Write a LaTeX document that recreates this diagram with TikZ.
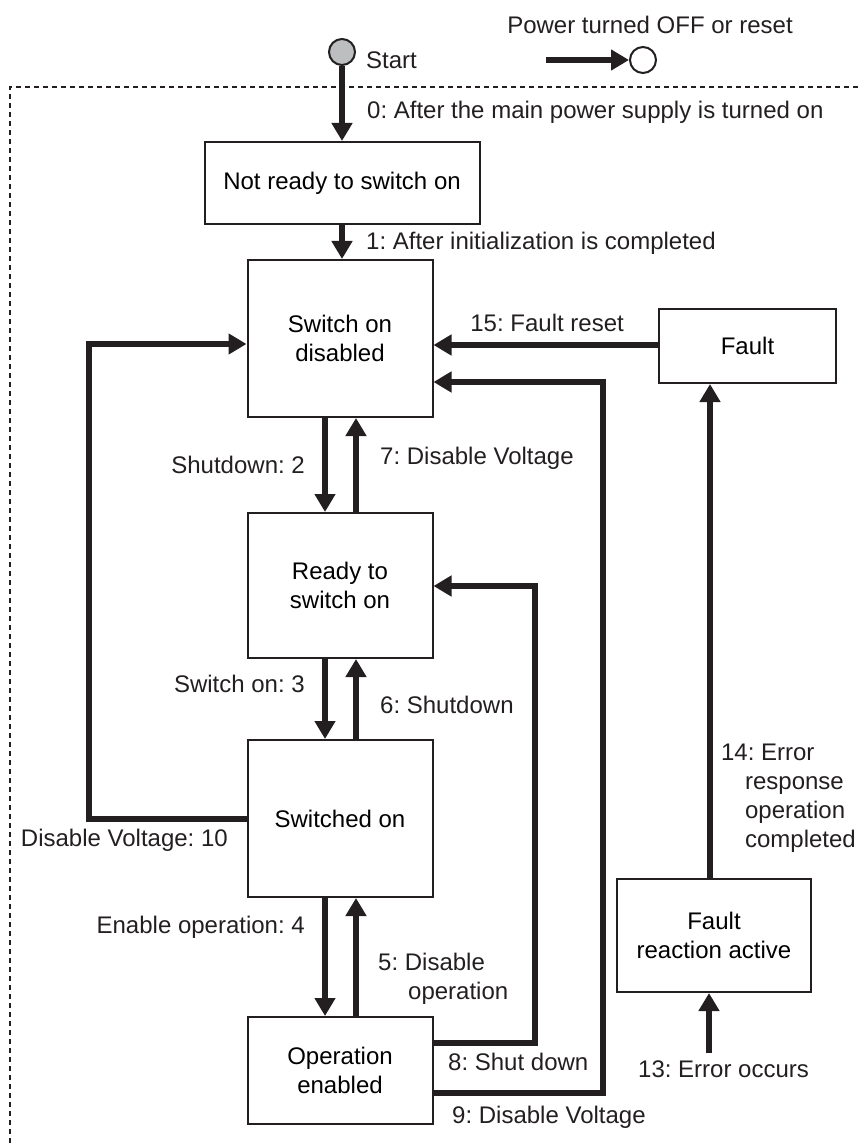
\documentclass[tikz,border=0pt]{standalone}
\usepackage{fontspec}
\setmainfont{Liberation Sans}
\usetikzlibrary{arrows.meta}
\frenchspacing

\definecolor{ink}{HTML}{231F20}
\definecolor{startgray}{HTML}{BCBEC0}

\newcommand*{\framex}{10}
\newcommand*{\framey}{87}
\newcommand*{\leftx}{89}
\newcommand*{\shutx}{535}
\newcommand*{\voltx}{603}

\begin{document}
\begin{tikzpicture}
[
	x=1pt, y=-1pt,
	font=\fontsize{24}{29}\selectfont,
	state/.style={draw=ink,line width=2pt,align=center,inner sep=0pt,minimum width=185pt},
	flow/.style={draw=ink,line width=6pt,-{Triangle[width=20pt,length=18pt]}},
	lbl/.style={text=ink,inner sep=0pt},
	endpt/.style={circle,draw=ink,line width=2pt,inner sep=0pt,minimum size=26pt}
]

	\useasboundingbox (0,0) rectangle (859,1147);

	% frame
	\draw[ink,line width=2pt,dash pattern=on 5pt off 4pt] (\framex,1170) -- (\framex,\framey) -- (880,\framey);

	% start and legend
	\node[endpt,fill=startgray] at (342,52) (start) {};
	\node[lbl,anchor=west] at (366,60) (lstart) {Start};
	\node[lbl] at (650,25) (loff) {Power turned OFF or reset};
	\node[endpt,fill=white] at (643,60) (off) {};
	\coordinate (offtail) at (546,60);
	\draw[flow] (offtail) -- (off);

	% states
	\node[state,minimum width=275pt,minimum height=82pt] at (342,183) (notready) {Not ready to switch on};
	\node[state,minimum height=157pt] at (340,338.5) (disabled) {Switch on\\disabled};
	\node[state,minimum height=145pt] at (340,585.5) (ready) {Ready to\\switch on};
	\node[state,minimum height=157pt] at (340,818.5) (switchedon) {Switched on};
	\node[state,minimum height=107pt] at (340,1070.5) (enabled) {Operation\\enabled};
	\node[state,minimum width=177pt,minimum height=74pt] at (747.5,346) (fault) {Fault};
	\node[state,minimum width=194pt,minimum height=113pt] at (714,935.5) (reaction) {Fault\\reaction active};

	% transitions
	\draw[flow] (start.south) -- (start.south |- notready.north);
	\draw[flow] (notready.south) -- (notready.south |- disabled.north);
	\draw[flow] ([xshift=-15pt]disabled.south) -- ([xshift=-15pt]ready.north);
	\draw[flow] ([xshift=16pt]ready.north) -- ([xshift=16pt]disabled.south);
	\draw[flow] ([xshift=-15pt]ready.south) -- ([xshift=-15pt]switchedon.north);
	\draw[flow] ([xshift=16pt]switchedon.north) -- ([xshift=16pt]ready.south);
	\draw[flow] ([xshift=-15pt]switchedon.south) -- ([xshift=-15pt]enabled.north);
	\draw[flow] ([xshift=16pt]enabled.north) -- ([xshift=16pt]switchedon.south);
	\draw[flow] (switchedon.west) -| (\leftx,344) -- (disabled.west |- 0,344);
	\draw[flow] (enabled.east |- 0,1043) -| (\shutx,586) -- (ready.east |- 0,586);
	\draw[flow] (enabled.east |- 0,1093) -| (\voltx,382) -- (disabled.east |- 0,382);
	\draw[flow] (fault.west |- 0,345) -- (disabled.east |- 0,345);
	\draw[flow] (reaction.north -| 710,0) -- (fault.south -| 710,0);
	\coordinate (errtail) at (709,1053);
	\draw[flow] (errtail) -- (errtail |- reaction.south);

	% labels
	\node[lbl,anchor=west] at (367,112) (l0) {0: After the main power supply is turned on};
	\node[lbl,anchor=west] at (366,243) (l1) {1: After initialization is completed};
	\node[lbl,anchor=east] at (305,465) (l2) {Shutdown: 2};
	\node[lbl,anchor=west] at (380,458) (l7) {7: Disable Voltage};
	\node[lbl,anchor=east] at (305,684) (l3) {Switch on: 3};
	\node[lbl,anchor=west] at (380,705) (l6) {6: Shutdown};
	\node[lbl,anchor=east] at (305,927) (l4) {Enable operation: 4};
	\node[lbl,anchor=west,align=left] at (378,979) (l5) {5: Disable\\\hspace*{1.25em}operation};
	\node[lbl,anchor=east] at (228,840) (l10) {Disable Voltage: 10};
	\node[lbl,anchor=west] at (448,1062) (l8) {8: Shut down};
	\node[lbl,anchor=west] at (452,1117) (l9) {9: Disable Voltage};
	\node[lbl,anchor=east] at (624,323) (l15) {15: Fault reset};
	\node[lbl,anchor=east,align=left] at (856,798) (l14) {14: Error\\\hspace*{1em}response\\\hspace*{1em}operation\\\hspace*{1em}completed};
	\node[lbl,anchor=west] at (638,1069) (l13) {13: Error occurs};

\end{tikzpicture}
\end{document}
